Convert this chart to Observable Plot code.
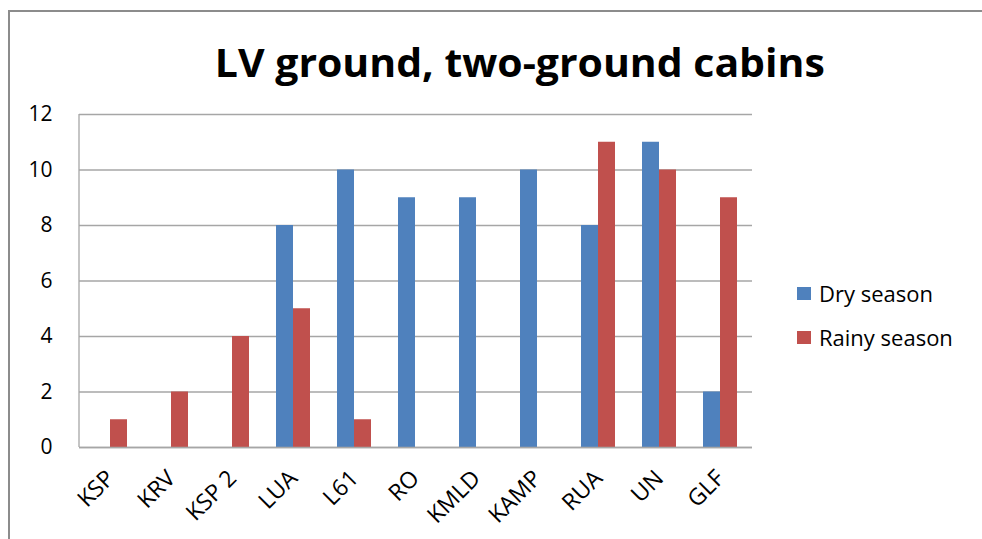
<!DOCTYPE html>
<html>
<head>
<meta charset="utf-8">
<script src="https://cdn.jsdelivr.net/npm/d3@7"></script>
<script src="https://cdn.jsdelivr.net/npm/@observablehq/plot@0.6"></script>
<style>
  html, body { margin: 0; padding: 0; background: #fff; overflow: hidden; }
  #wrap { position: relative; width: 982px; height: 539px; overflow: hidden; font-family: "Open Sans", sans-serif; }
  .bline { position: absolute; background: #8c8c8c; pointer-events: none; }
  #title { position: absolute; left: 0; width: 982px; box-sizing: border-box; padding-left: 58px; top: 38px; text-align: center; white-space: nowrap; overflow: visible; }
  #title span { display: inline-block; font-weight: 700; font-size: 40px; line-height: 48px; color: #000; transform-origin: center; }
  #chart { position: absolute; left: 0; top: 0; }
  .leg { position: absolute; left: 797px; font-size: 22px; color: #000; white-space: nowrap; display: flex; align-items: center; }
  .leg i { display: inline-block; width: 14px; height: 13px; margin-right: 8px; }
</style>
</head>
<body>
<div id="wrap">
  <div id="chart"></div>
  <div class="bline" style="left:8px; top:10px; width:974px; height:1.5px"></div>
  <div class="bline" style="left:8px; top:10px; width:1.5px; height:529px"></div>
  <div id="title"><span id="tspan">LV ground, two-ground cabins</span></div>
  <div class="leg" style="top:278px"><i style="background:#4F81BD"></i>Dry season</div>
  <div class="leg" style="top:322px"><i style="background:#C0504D"></i>Rainy season</div>
</div>
<script>
const categories = ["KSP", "KRV", "KSP 2", "LUA", "L61", "RO", "KMLD", "KAMP", "RUA", "UN", "GLF"];
const drySeason = [0, 0, 0, 8, 10, 9, 9, 10, 8, 11, 2];
const rainySeason = [1, 2, 4, 5, 1, 0, 0, 0, 11, 10, 9];
const yTicks = [0, 2, 4, 6, 8, 10, 12];

const dryData = categories.map((c, i) => ({cat: c, v: drySeason[i]})).filter(d => d.v > 0);
const rainyData = categories.map((c, i) => ({cat: c, v: rainySeason[i]})).filter(d => d.v > 0);

// left axis line drawn from the plot's own frame dimensions
const leftAxisLine = (index, scales, values, dimensions) => {
  const {marginLeft, marginTop, height, marginBottom} = dimensions;
  const g = d3.create("svg:g");
  g.append("line")
    .attr("x1", marginLeft).attr("x2", marginLeft)
    .attr("y1", marginTop).attr("y2", height - marginBottom)
    .attr("stroke", "#a6a6a6").attr("stroke-width", 1.3);
  return g.node();
};

const chart = Plot.plot({
  width: 982,
  height: 539,
  marginTop: 114,
  marginBottom: 92,
  marginLeft: 79,
  marginRight: 230,
  style: {fontFamily: "Open Sans, sans-serif", fontSize: "20px", color: "#000", background: "transparent", overflow: "hidden"},
  x: {domain: categories, paddingInner: 0.44, paddingOuter: 0.22, label: null},
  y: {domain: [0, 12], label: null},
  marks: [
    Plot.gridY(yTicks, {stroke: "#a6a6a6", strokeOpacity: 1, strokeWidth: 1.3}),
    leftAxisLine,
    Plot.barY(dryData, {x: "cat", y: "v", fill: "#4F81BD", insetRight: 17}),
    Plot.barY(rainyData, {x: "cat", y: "v", fill: "#C0504D", insetLeft: 17}),
    Plot.ruleY([0], {stroke: "#a6a6a6", strokeWidth: 1.5}),
    Plot.axisY(yTicks, {tickSize: 0, tickPadding: 27, fontSize: 21, label: null}),
    Plot.axisX({tickSize: 0, tickRotate: -45, tickPadding: 27, fontSize: 23, label: null})
  ]
});
document.getElementById("chart").appendChild(chart);

const ts = document.getElementById("tspan");
const w = ts.getBoundingClientRect().width;
ts.style.transform = `scaleX(${610 / w})`;
</script>
</body>
</html>
